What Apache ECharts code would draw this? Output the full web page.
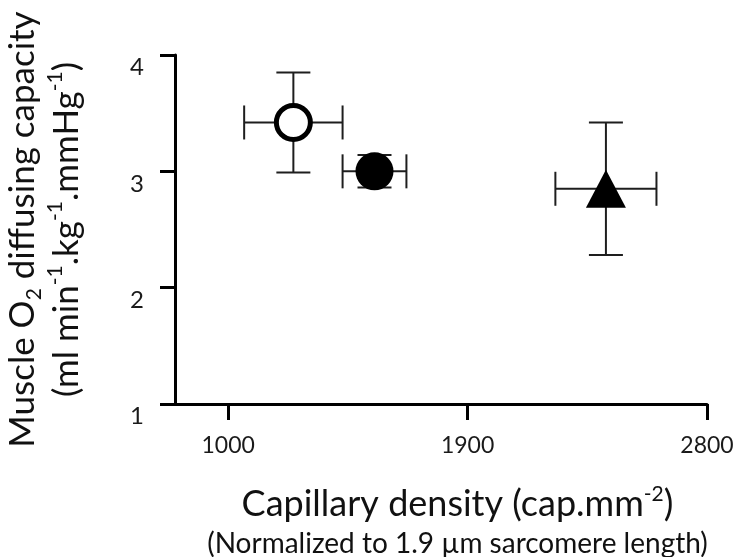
<!DOCTYPE html>
<html>
<head>
<meta charset="utf-8">
<script src="https://cdn.jsdelivr.net/npm/echarts@6/dist/echarts.min.js"></script>
<style>
html,body{margin:0;padding:0;background:#fff;}
#chart{width:735px;height:557px;}
</style>
</head>
<body>
<div id="chart"></div>
<script>
// ---- data ----
const groups = ['Open circle', 'Filled circle', 'Triangle'];
const capDensity = [1245, 1550, 2420];
const capDensityErr = [185, 120, 190];
const diffCapacity = [3.42, 3.0, 2.85];
const diffCapacityErr = [0.43, 0.14, 0.57];
const xTickValues = [1000, 1900, 2800];
const yTickValues = [1, 2, 3, 4];

const FONT = 'Lato';
const chart = echarts.init(document.getElementById('chart'), null, {renderer: 'canvas'});

const errData = groups.map((g, i) => [capDensity[i], diffCapacity[i], capDensityErr[i], diffCapacityErr[i]]);

function renderErr(params, api) {
  const x = api.value(0), y = api.value(1), ex = api.value(2), ey = api.value(3);
  const c = api.coord([x, y]);
  const l = api.coord([x - ex, y]);
  const r = api.coord([x + ex, y]);
  const t = api.coord([x, y + ey]);
  const b = api.coord([x, y - ey]);
  const cap = 17;
  const st = {stroke: '#1e1e1e', lineWidth: 2};
  const line = (x1, y1, x2, y2) => ({type: 'line', shape: {x1, y1, x2, y2}, style: st});
  return {
    type: 'group',
    children: [
      line(l[0], c[1], r[0], c[1]),
      line(l[0], c[1] - cap, l[0], c[1] + cap),
      line(r[0], c[1] - cap, r[0], c[1] + cap),
      line(c[0], t[1], c[0], b[1]),
      line(c[0] - cap, t[1], c[0] + cap, t[1]),
      line(c[0] - cap, b[1], c[0] + cap, b[1])
    ]
  };
}

const symbols = [
  {symbol: 'circle', size: 34, item: {color: '#fff', borderColor: '#000', borderWidth: 5, opacity: 1}},
  {symbol: 'circle', size: 38, item: {color: '#000', opacity: 1}},
  {symbol: 'triangle', size: [40, 38], item: {color: '#000', opacity: 1}}
];

const scatterSeries = groups.map((g, i) => ({
  name: g,
  type: 'scatter',
  z: 3,
  symbol: symbols[i].symbol,
  symbolSize: symbols[i].size,
  itemStyle: symbols[i].item,
  data: [[capDensity[i], diffCapacity[i]]]
}));

chart.setOption({
  animation: false,
  backgroundColor: '#fff',
  grid: {left: 175, right: 28, top: 55, bottom: 153, containLabel: false, outerBoundsMode: 'none'},
  xAxis: {
    type: 'value',
    min: 800,
    max: 2800,
    name: 'Capillary density (cap.mm{sup|-2})\n{small|(Normalized to 1.9 µm sarcomere length)}',
    nameLocation: 'middle',
    nameGap: 80,
    nameTextStyle: {
      fontFamily: FONT, fontSize: 36, lineHeight: 40, color: '#111',
      padding: [0, 0, 0, 33],
      rich: {
        sup: {fontFamily: FONT, fontSize: 21, lineHeight: 19, verticalAlign: 'top', color: '#111'},
        small: {fontFamily: FONT, fontSize: 28, lineHeight: 40, color: '#111'}
      }
    },
    axisLine: {show: true, lineStyle: {color: '#000', width: 3}},
    axisTick: {show: true, customValues: xTickValues, length: 16, lineStyle: {color: '#000', width: 3}},
    axisLabel: {customValues: xTickValues, formatter: v => String(v), margin: 30, verticalAlign: 'top', fontFamily: FONT, fontSize: 23, lineHeight: 24, color: '#1a1a1a'},
    splitLine: {show: false}
  },
  yAxis: {
    type: 'value',
    min: 1,
    max: 4,
    interval: 1,
    name: 'Muscle O{sub|2} diffusing capacity\n(ml min{sup|-1}.kg{sup|-1}.mmHg{sup|-1})',
    nameLocation: 'middle',
    nameGap: 86,
    nameTextStyle: {
      fontFamily: FONT, fontSize: 35, lineHeight: 44, color: '#111',
      rich: {
        sub: {fontFamily: FONT, fontSize: 21, lineHeight: 28, verticalAlign: 'bottom', color: '#111'},
        sup: {fontFamily: FONT, fontSize: 21, lineHeight: 22, verticalAlign: 'top', color: '#111'}
      }
    },
    axisLine: {show: true, lineStyle: {color: '#000', width: 3}},
    axisTick: {show: true, customValues: yTickValues, length: 15, lineStyle: {color: '#000', width: 3}},
    axisLabel: {customValues: yTickValues, formatter: v => String(v), margin: 31, verticalAlign: 'top', fontFamily: FONT, fontSize: 24, lineHeight: 25, color: '#1a1a1a'},
    splitLine: {show: false}
  },
  series: [
    {
      name: 'error bars',
      type: 'custom',
      z: 2,
      renderItem: renderErr,
      encode: {x: 0, y: 1},
      data: errData
    }
  ].concat(scatterSeries)
});
</script>
</body>
</html>
